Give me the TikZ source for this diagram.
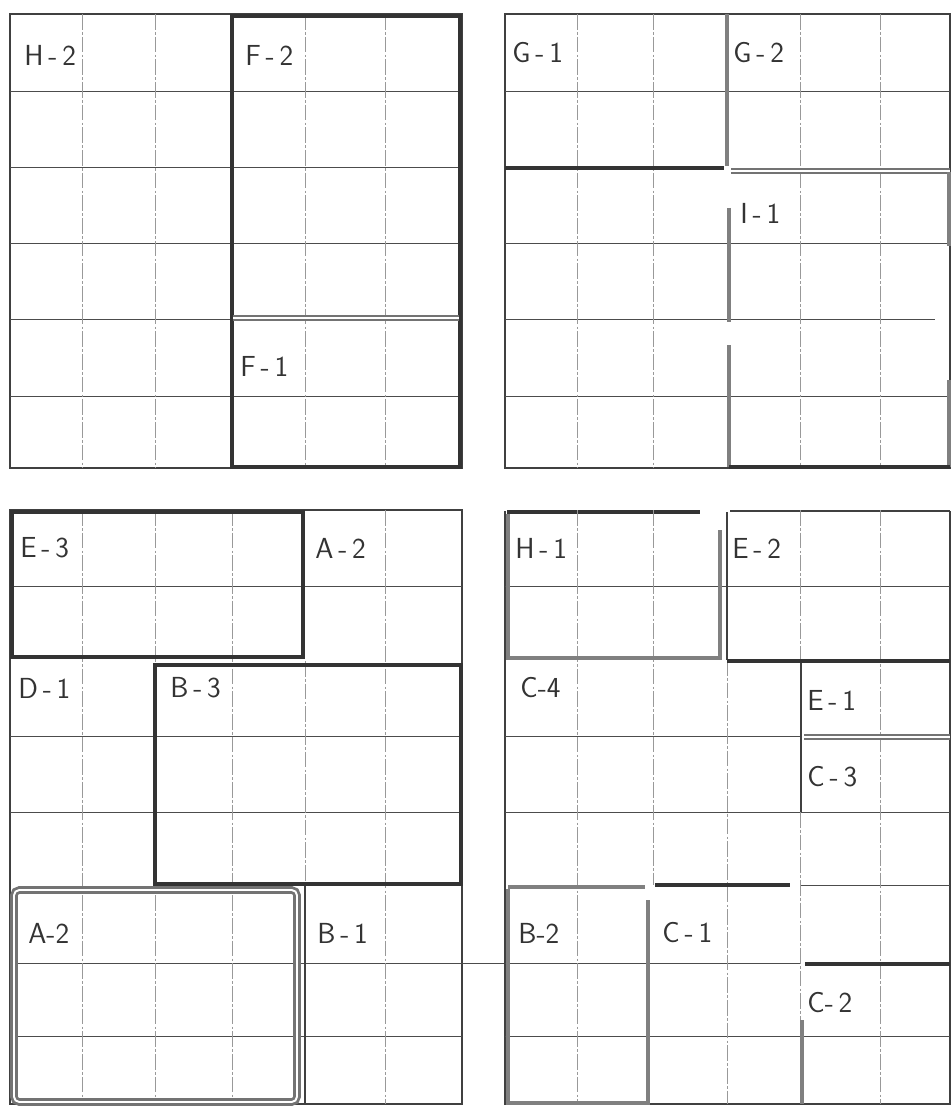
\documentclass[tikz,border=0pt]{standalone}
\usetikzlibrary{positioning}
\begin{document}
\begin{tikzpicture}[x=0.02cm,y=-0.02cm,
  gridh/.style={black!70,line width=0.45pt},
  gridv/.style={black!40,line width=0.4pt,dash pattern=on 9pt off 1.2pt on 1.5pt off 1.2pt},
  frame/.style={black!75,line width=0.8pt},
  wall/.style={black!80,line width=2.2pt},
  gwall/.style={black!50,line width=2.6pt},
  dwall/.style={black!55,line width=1.3pt,double=white,double distance=1.1pt},
  lbl/.style={anchor=west,inner sep=0pt,text=black!80,font=\sffamily\fontsize{16.5}{16.5}\selectfont}]
\useasboundingbox (0,0) rectangle (952,1108);

% top left block
\draw[frame] (10,14) rectangle (462,468);
\foreach \y in {91,167,243,319,396} \draw[gridh] (10,\y) -- (462,\y);
\foreach \x in {82,155,232,305,385} \draw[gridv] (\x,14) -- (\x,468);
\draw[wall] (232,16) rectangle (460,467);
\draw[dwall] (233,318) -- (459,318);
\node[lbl] (h2) at (24,55) {H\,-\,2};
\node[lbl] (f2) at (245,55) {F\,-\,2};
\node[lbl] (f1) at (240,366) {F\,-\,1};

% top right block
\draw[frame] (505,14) rectangle (950,468);
\foreach \y in {91,243,396} \draw[gridh] (505,\y) -- (950,\y);
\draw[gridh] (505,319) -- (935,319);
\foreach \x in {577,653,800,880} \draw[gridv] (\x,14) -- (\x,468);
\draw[gwall] (727,14) -- (727,166);
\draw[wall] (505,168) -- (724,168);
\draw[dwall] (731,171) -- (950,171);
\draw[gwall] (729,208) -- (729,322);
\draw[gwall] (729,345) -- (729,467);
\draw[gwall] (949,172) -- (949,246);
\draw[gwall] (949,380) -- (949,467);
\draw[wall] (729,467) -- (950,467);
\node[lbl] (g1) at (512,53) {G\,-\,1};
\node[lbl] (g2) at (733,53) {G\,-\,2};
\node[lbl] (i1) at (740,213) {I\,-\,1};

% bottom left block
\draw[frame] (10,510) rectangle (462,1104);
\foreach \y in {586,736,812,963,1036} \draw[gridh] (10,\y) -- (462,\y);
\foreach \x in {82,155,232,385} \draw[gridv] (\x,510) -- (\x,1104);
\draw[gridv] (305,661) -- (305,885);
\draw[wall] (12,512) rectangle (303,657);
\draw[wall] (155,665) rectangle (461,884);
\draw[dwall,line width=1.6pt,rounded corners=3pt] (14,890) rectangle (297,1102);
\draw[frame] (305,886) -- (305,1104);
\draw[gridh] (462,963) -- (505,963);
\node[lbl] (e3) at (20,548) {E\,-\,3};
\node[lbl] (a2) at (315,548) {A\,-\,2};
\node[lbl] (d1) at (18,688) {D\,-\,1};
\node[lbl] (b3) at (170,688) {B\,-\,3};
\node[lbl] (a2b) at (28,933) {A-2};
\node[lbl] (b1) at (317,933) {B\,-\,1};

% bottom right block
\draw[wall] (507,512) -- (700,512);
\draw[frame] (730,511) -- (950,511);
\draw[frame] (505,511) -- (505,1104) -- (950,1104) -- (950,511);
\foreach \y in {586,812,1036} \draw[gridh] (505,\y) -- (950,\y);
\draw[gridh] (505,736) -- (800,736);
\draw[gridh] (505,963) -- (800,963);
\draw[gridh] (800,885) -- (950,885);
\draw[gridv] (577,510) -- (577,1104);
\draw[gridv] (653,510) -- (653,885);
\draw[gridv] (727,660) -- (727,1104);
\draw[gridv] (800,510) -- (800,660);
\draw[gridv] (800,812) -- (800,1020);
\draw[gridv] (880,510) -- (880,1104);
\draw[gwall] (508,514) -- (508,658) -- (720,658) -- (720,530);
\draw[frame] (727,512) -- (727,660);
\draw[wall] (727,661) -- (950,661);
\draw[frame] (801,663) -- (801,812);
\draw[dwall] (804,737) -- (950,737);
\draw[gwall] (508,887) -- (645,887);
\draw[wall] (655,885) -- (790,885);
\draw[gwall] (508,889) -- (508,1103) -- (648,1103) -- (648,900);
\draw[wall] (805,964) -- (950,964);
\draw[gwall] (802,1020) -- (802,1104);
\node[lbl] (h1) at (515,548) {H\,-\,1};
\node[lbl] (e2) at (732,548) {E\,-\,2};
\node[lbl] (c4) at (520,688) {C-4};
\node[lbl] (e1) at (807,700) {E\,-\,1};
\node[lbl] (c3) at (807,777) {C\,-\,3};
\node[lbl] (b2) at (518,933) {B-2};
\node[lbl] (c1) at (662,933) {C\,-\,1};
\node[lbl] (c2) at (807,1003) {C-\,2};
\end{tikzpicture}
\end{document}
